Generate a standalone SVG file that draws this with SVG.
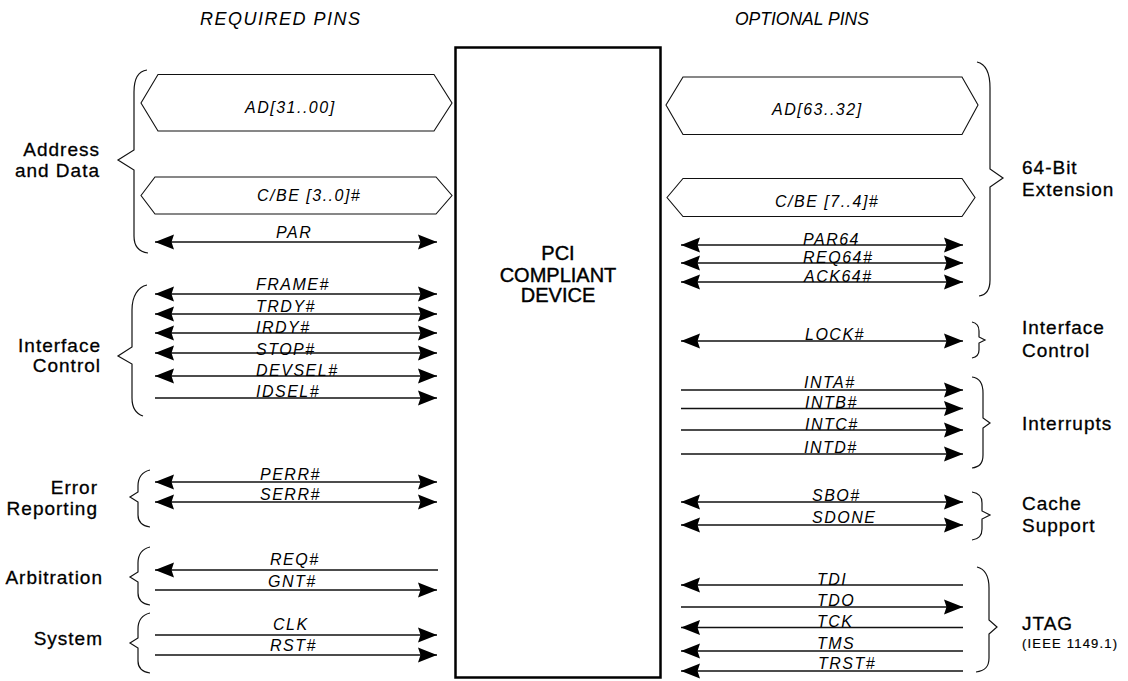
<svg xmlns="http://www.w3.org/2000/svg" width="1128" height="681" viewBox="0 0 1128 681">
<defs>
<marker id="ah" viewBox="-19 -8 19 16" refX="0" refY="0" markerWidth="19" markerHeight="16" markerUnits="userSpaceOnUse" orient="auto-start-reverse">
<path d="M0,0 L-19,-7.5 L-16.5,0 L-19,7.5 Z" fill="#000"/>
</marker>
<style>
.sig{stroke:#111;stroke-width:1.3;fill:none}
.both{marker-start:url(#ah);marker-end:url(#ah)}
.end{marker-end:url(#ah)}
.start{marker-start:url(#ah)}
.bus{stroke:#111;stroke-width:1.1;fill:#fff}
.brace{stroke:#111;stroke-width:1.2;fill:none}
.lbl{font-family:"Liberation Sans",Arial,sans-serif;font-style:italic;font-size:16px;letter-spacing:1.5px;fill:#000}
.grp{font-family:"Liberation Sans",Arial,sans-serif;font-size:19px;letter-spacing:1px;fill:#000;stroke:#000;stroke-width:0.3}
.title{font-family:"Liberation Sans",Arial,sans-serif;font-style:italic;font-size:18px;letter-spacing:1.5px;fill:#000}
.dev{font-family:"Liberation Sans",Arial,sans-serif;font-size:20px;fill:#000;stroke:#000;stroke-width:0.4;text-anchor:middle}
</style>
</defs>
<rect width="1128" height="681" fill="#fff"/>

<g id="titles">
<text class="title" x="200" y="25">REQUIRED PINS</text>
<text class="title" x="735" y="25" style="font-size:17.5px;letter-spacing:0px">OPTIONAL PINS</text>
</g>

<g id="device">
<rect x="455.5" y="47.5" width="205" height="630" fill="#fff" stroke="#000" stroke-width="2.5"/>
<text class="dev" x="558" y="260">PCI</text>
<text class="dev" x="558" y="282">COMPLIANT</text>
<text class="dev" x="558" y="302">DEVICE</text>
</g>

<g id="group-address-data">
<path class="brace" d="M147,70 C139,71 134,78 134,92 L134,150 L118,160 L134,170 L134,236 C134,247 140,252 148,253"/>
<text class="grp" x="100" y="156" text-anchor="end">Address</text>
<text class="grp" x="100" y="177" text-anchor="end">and Data</text>
</g>
<g id="group-interface-control-left">
<path class="brace" d="M147,285 C138,287 132,296 132,310 L132,347 L118,356 L132,364 L132,398 C132,409 137,414 143,416"/>
<text class="grp" x="101" y="352" text-anchor="end">Interface</text>
<text class="grp" x="101" y="372" text-anchor="end">Control</text>
</g>
<g id="group-error-reporting">
<path class="brace" d="M150,470 C142,472 138,478 138,486 L138,492 L130,497 L138,502 L138,515 C138,522 143,526 150,527"/>
<text class="grp" x="98" y="494" text-anchor="end">Error</text>
<text class="grp" x="98" y="515" text-anchor="end">Reporting</text>
</g>
<g id="group-arbitration">
<path class="brace" d="M150,547 C142,549 138,555 138,563 L138,572 L130,577 L138,582 L138,593 C138,600 143,604 150,605"/>
<text class="grp" x="103" y="584" text-anchor="end">Arbitration</text>
</g>
<g id="group-system">
<path class="brace" d="M150,613 C142,615 138,621 138,629 L138,638 L130,643 L138,648 L138,661 C138,668 143,672 150,673"/>
<text class="grp" x="103" y="645" text-anchor="end">System</text>
</g>

<g id="group-64bit">
<path class="brace" d="M977,62 C986,64 990,72 990,88 L990,169 L1003,178 L990,187 L990,280 C990,290 986,295 979,296"/>
<text class="grp" x="1022" y="174">64-Bit</text>
<text class="grp" x="1022" y="196">Extension</text>
</g>
<g id="group-interface-control-right">
<path class="brace" d="M972,322 C977,323 979,326 979,331 L979,337 L985,340 L979,343 L979,350 C979,355 977,357 972,358"/>
<text class="grp" x="1022" y="334">Interface</text>
<text class="grp" x="1022" y="357">Control</text>
</g>
<g id="group-interrupts">
<path class="brace" d="M972,377 C980,378 983,384 983,393 L983,418 L990,423 L983,428 L983,455 C983,464 979,467 972,468"/>
<text class="grp" x="1022" y="430">Interrupts</text>
</g>
<g id="group-cache">
<path class="brace" d="M972,492 C979,493 982,497 982,503 L982,511 L990,515 L982,519 L982,529 C982,536 979,539 972,540"/>
<text class="grp" x="1022" y="510">Cache</text>
<text class="grp" x="1022" y="532">Support</text>
</g>
<g id="group-jtag">
<path class="brace" d="M977,567 C985,569 989,576 989,588 L989,620 L997,627 L989,634 L989,658 C989,667 985,671 976,672"/>
<text class="grp" x="1022" y="630">JTAG</text>
<text class="grp" x="1022" y="648" style="font-size:13px;letter-spacing:1.2px;stroke-width:0.2">(IEEE 1149.1)</text>
</g>

<g id="connectors">
<g id="buses">
<polygon class="bus" points="141,103 158,74.5 434,74.5 452,103 434,131 158,131"/>
<text class="lbl" x="245" y="113">AD[31..00]</text>
<polygon class="bus" points="141,195.5 155,177 436,177 452,195.5 436,214 155,214"/>
<text class="lbl" x="257" y="200.5">C/BE [3..0]#</text>
<polygon class="bus" points="666,105 683,77 962,77 978,105 962,134.5 683,134.5"/>
<text class="lbl" x="772" y="115">AD[63..32]</text>
<polygon class="bus" points="667,197.5 683,178.5 962,178.5 975,197.5 962,216.5 683,216.5"/>
<text class="lbl" x="775" y="206.5">C/BE [7..4]#</text>
</g>
<g id="left-signals">
<line class="sig both" x1="155" y1="242" x2="437" y2="242"/><text class="lbl" x="276" y="238">PAR</text>
<line class="sig both" x1="155" y1="294" x2="437" y2="294"/><text class="lbl" x="256" y="290">FRAME#</text>
<line class="sig both" x1="155" y1="314" x2="437" y2="314"/><text class="lbl" x="256" y="311.5">TRDY#</text>
<line class="sig both" x1="155" y1="333" x2="437" y2="333"/><text class="lbl" x="256" y="333">IRDY#</text>
<line class="sig both" x1="155" y1="353" x2="437" y2="353"/><text class="lbl" x="256" y="355">STOP#</text>
<line class="sig both" x1="155" y1="376" x2="437" y2="376"/><text class="lbl" x="256" y="376">DEVSEL#</text>
<line class="sig end" x1="155" y1="398" x2="437" y2="398"/><text class="lbl" x="256" y="396.5">IDSEL#</text>
<line class="sig both" x1="155" y1="482" x2="437" y2="482"/><text class="lbl" x="260" y="480">PERR#</text>
<line class="sig both" x1="155" y1="502" x2="437" y2="502"/><text class="lbl" x="260" y="500">SERR#</text>
<line class="sig start" x1="155" y1="570" x2="438" y2="570"/><text class="lbl" x="270" y="565">REQ#</text>
<line class="sig end" x1="155" y1="590" x2="437" y2="590"/><text class="lbl" x="268" y="587">GNT#</text>
<line class="sig end" x1="155" y1="635" x2="437" y2="635"/><text class="lbl" x="273" y="630">CLK</text>
<line class="sig end" x1="155" y1="655" x2="437" y2="655"/><text class="lbl" x="270" y="651">RST#</text>
</g>
<g id="right-signals">
<line class="sig both" x1="681" y1="245" x2="963" y2="245"/><text class="lbl" x="803" y="245">PAR64</text>
<line class="sig both" x1="681" y1="263" x2="963" y2="263"/><text class="lbl" x="803" y="263">REQ64#</text>
<line class="sig both" x1="681" y1="282" x2="963" y2="282"/><text class="lbl" x="804" y="281.5">ACK64#</text>
<line class="sig both" x1="681" y1="341" x2="963" y2="341"/><text class="lbl" x="805" y="340">LOCK#</text>
<line class="sig end" x1="681" y1="390" x2="963" y2="390"/><text class="lbl" x="804" y="388">INTA#</text>
<line class="sig end" x1="681" y1="408.5" x2="963" y2="408.5"/><text class="lbl" x="805" y="408">INTB#</text>
<line class="sig end" x1="681" y1="430" x2="963" y2="430"/><text class="lbl" x="805" y="430">INTC#</text>
<line class="sig end" x1="681" y1="454" x2="963" y2="454"/><text class="lbl" x="804" y="452.5">INTD#</text>
<line class="sig both" x1="681" y1="502" x2="963" y2="502"/><text class="lbl" x="812" y="501">SBO#</text>
<line class="sig both" x1="681" y1="525" x2="963" y2="525"/><text class="lbl" x="812" y="523">SDONE</text>
<line class="sig start" x1="681" y1="585" x2="963" y2="585"/><text class="lbl" x="817" y="584.5">TDI</text>
<line class="sig end" x1="681" y1="607" x2="963" y2="607"/><text class="lbl" x="817" y="606">TDO</text>
<line class="sig start" x1="681" y1="627.5" x2="963" y2="627.5"/><text class="lbl" x="817" y="627">TCK</text>
<line class="sig start" x1="681" y1="651" x2="963" y2="651"/><text class="lbl" x="817" y="648.5">TMS</text>
<line class="sig start" x1="681" y1="671" x2="963" y2="671"/><text class="lbl" x="818" y="668.5">TRST#</text>
</g>
</g>
</svg>
